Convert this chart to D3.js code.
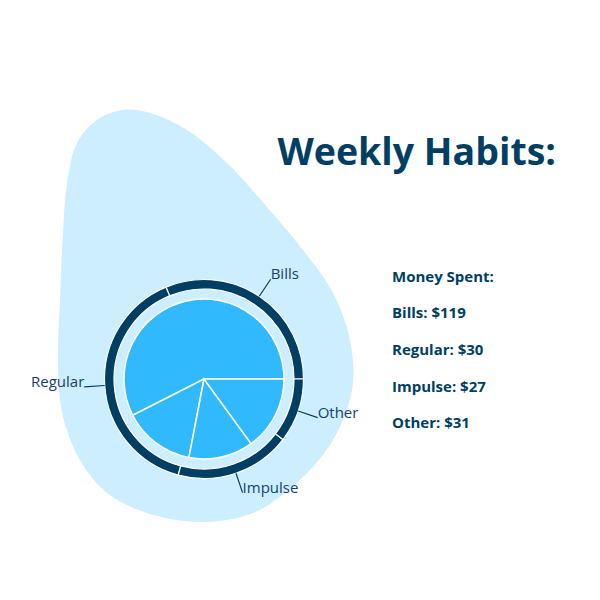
<!DOCTYPE html>
<html>
<head>
<meta charset="utf-8">
<script src="https://cdn.jsdelivr.net/npm/d3@7"></script>
<style>
  html, body { margin: 0; padding: 0; background: #ffffff; }
  svg { display: block; }
</style>
</head>
<body>
<svg id="chart" width="600" height="600"></svg>
<script>
// ---- data ----
const categories = ["Bills", "Regular", "Impulse", "Other"];
const spent = [119, 30, 27, 31];
const ringValues = [15, 19, 9, 5];
const titleText = "Weekly Habits:";
const legendTitle = "Money Spent:";
// decorative background blob outline
const blobPoints = [
  [123, 110], [97, 120], [77, 143], [67, 183], [63, 233], [60, 300],
  [58, 367], [63, 417], [80, 460], [107, 493], [147, 513], [200, 522],
  [253, 513], [300, 480], [333, 440], [352, 390], [350, 340], [333, 293],
  [303, 250], [267, 207], [227, 163], [187, 130], [150, 113]
];

const svg = d3.select("#chart");
const navy = "#003f63";
const font = "'Open Sans', 'Noto Sans', sans-serif";

// blob
svg.append("path")
  .attr("d", d3.line().curve(d3.curveCatmullRomClosed.alpha(0.5))(blobPoints))
  .attr("fill", "#cdeeff");

// title
svg.append("text")
  .attr("x", 556).attr("y", 165)
  .attr("text-anchor", "end")
  .attr("font-family", font)
  .attr("font-weight", 700)
  .attr("font-size", 37.5)
  .attr("fill", navy)
  .text(titleText);

const cx = 204, cy = 379;
const g = svg.append("g").attr("transform", `translate(${cx},${cy})`);

const pieGen = d3.pie().sort(null)
  .startAngle(Math.PI / 2)
  .endAngle(Math.PI / 2 - 2 * Math.PI);

// inner pie
const innerArcs = pieGen(spent);
const innerArc = d3.arc().innerRadius(0).outerRadius(80);
g.selectAll("path.inner")
  .data(innerArcs)
  .join("path")
  .attr("class", "inner")
  .attr("d", innerArc)
  .attr("fill", "#31b9fd")
  .attr("stroke", "#ffffff")
  .attr("stroke-width", 1.5);

// outer ring
const ringArcs = pieGen(ringValues);
const ringArc = d3.arc().innerRadius(90).outerRadius(99.5);
g.selectAll("path.ring")
  .data(ringArcs)
  .join("path")
  .attr("class", "ring")
  .attr("d", ringArc)
  .attr("fill", navy)
  .attr("stroke", "#ffffff")
  .attr("stroke-width", 1.2);

// labels
const lineStart = d3.arc().innerRadius(99.5).outerRadius(99.5);
const lineEnd = d3.arc().innerRadius(120).outerRadius(120);
const norm = a => ((a % (2 * Math.PI)) + 2 * Math.PI) % (2 * Math.PI);

const labels = g.selectAll("g.label")
  .data(ringArcs)
  .join("g")
  .attr("class", "label");

labels.append("line")
  .attr("x1", d => lineStart.centroid(d)[0])
  .attr("y1", d => lineStart.centroid(d)[1])
  .attr("x2", d => lineEnd.centroid(d)[0])
  .attr("y2", d => lineEnd.centroid(d)[1])
  .attr("stroke", navy)
  .attr("stroke-width", 1.2);

labels.append("text")
  .attr("x", d => lineEnd.centroid(d)[0])
  .attr("y", d => lineEnd.centroid(d)[1])
  .attr("text-anchor", d => norm((d.startAngle + d.endAngle) / 2) < Math.PI ? "start" : "end")
  .attr("font-family", font)
  .attr("font-size", 15)
  .attr("fill", "#14436a")
  .text((d, i) => categories[i]);

// legend
const legendX = 392;
const legendLines = [legendTitle].concat(categories.map((c, i) => `${c}: $${spent[i]}`));
svg.selectAll("text.legend")
  .data(legendLines)
  .join("text")
  .attr("class", "legend")
  .attr("x", legendX)
  .attr("y", (d, i) => 281.5 + i * 36.7)
  .attr("font-family", font)
  .attr("font-weight", 700)
  .attr("font-size", 15)
  .attr("fill", navy)
  .text(d => d);
</script>
</body>
</html>
